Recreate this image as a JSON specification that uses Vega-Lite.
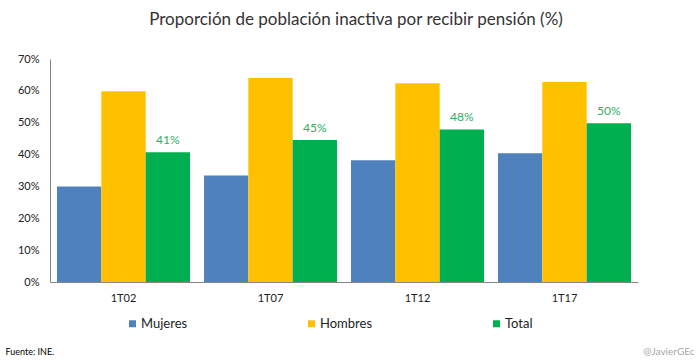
{
  "$schema": "https://vega.github.io/schema/vega-lite/v6.json",
  "autosize": {"type": "none"},
  "padding": {"left": 50, "top": 59, "right": 62, "bottom": 81},
  "width": 588,
  "height": 223,
  "background": "white",
  "config": {
    "font": "Lato",
    "view": {"stroke": null}
  },
  "title": {
    "text": "Proporción de población inactiva por recibir pensión (%)",
    "fontSize": 17,
    "fontWeight": "normal",
    "color": "#333333",
    "anchor": "middle",
    "frame": "group",
    "dx": 12,
    "baseline": "alphabetic",
    "offset": 11
  },
  "data": {
    "values": [
      {"periodo": "1T02", "serie": "Mujeres", "valor": 0.300},
      {"periodo": "1T02", "serie": "Hombres", "valor": 0.599},
      {"periodo": "1T02", "serie": "Total", "valor": 0.407},
      {"periodo": "1T07", "serie": "Mujeres", "valor": 0.334},
      {"periodo": "1T07", "serie": "Hombres", "valor": 0.640},
      {"periodo": "1T07", "serie": "Total", "valor": 0.446},
      {"periodo": "1T12", "serie": "Mujeres", "valor": 0.382},
      {"periodo": "1T12", "serie": "Hombres", "valor": 0.624},
      {"periodo": "1T12", "serie": "Total", "valor": 0.479},
      {"periodo": "1T17", "serie": "Mujeres", "valor": 0.404},
      {"periodo": "1T17", "serie": "Hombres", "valor": 0.628},
      {"periodo": "1T17", "serie": "Total", "valor": 0.498}
    ]
  },
  "encoding": {
    "x": {
      "field": "periodo",
      "type": "nominal",
      "sort": ["1T02", "1T07", "1T12", "1T17"],
      "scale": {"paddingInner": 0.095, "paddingOuter": 0.0476},
      "axis": {
        "title": "Fuente: INE.",
        "titleFontSize": 9,
        "titleFontWeight": "normal",
        "titleColor": "#000000",
        "titleAnchor": null,
        "titleAlign": "left",
        "titleBaseline": "middle",
        "titleX": -45,
        "titleY": 69,
        "labelAngle": 0,
        "labelFontSize": 11,
        "labelColor": "#222222",
        "labelPadding": 10,
        "ticks": false,
        "tickSize": 0,
        "domainColor": "#868686",
        "domainWidth": 1
      }
    },
    "xOffset": {
      "field": "serie",
      "type": "nominal",
      "scale": {"domain": ["Mujeres", "Hombres", "Total"]}
    },
    "y": {
      "field": "valor",
      "type": "quantitative",
      "scale": {"domain": [0, 0.7], "nice": false},
      "axis": {
        "title": "@JavierGEc",
        "titleAngle": 0,
        "titleFontSize": 10,
        "titleFontWeight": "normal",
        "titleColor": "#A6A6A6",
        "titleAnchor": null,
        "titleAlign": "right",
        "titleBaseline": "middle",
        "titleX": 644,
        "titleY": 292,
        "values": [0, 0.1, 0.2, 0.3, 0.4, 0.5, 0.6, 0.7],
        "format": ".0%",
        "grid": false,
        "ticks": false,
        "tickSize": 0,
        "labelPadding": 11,
        "labelFontSize": 11,
        "labelColor": "#222222",
        "domainColor": "#868686",
        "domainWidth": 1
      }
    }
  },
  "layer": [
    {
      "mark": {"type": "bar"},
      "encoding": {
        "color": {
          "field": "serie",
          "type": "nominal",
          "scale": {
            "domain": ["Mujeres", "Hombres", "Total"],
            "range": ["#4F81BD", "#FFC000", "#00B050"]
          },
          "legend": {
            "title": null,
            "orient": "none",
            "direction": "horizontal",
            "legendX": 76,
            "legendY": 258,
            "symbolType": "square",
            "symbolSize": 49,
            "symbolOpacity": 1,
            "symbolStrokeWidth": 0,
            "labelFontSize": 13,
            "labelColor": "#222222",
            "labelOffset": 2,
            "columnPadding": 117,
            "padding": 0
          }
        }
      }
    },
    {
      "transform": [{"filter": "datum.serie === 'Total'"}],
      "mark": {"type": "text", "baseline": "bottom", "dy": -5, "fontSize": 12, "color": "#2EAF5F"},
      "encoding": {
        "text": {"field": "valor", "type": "quantitative", "format": ".0%"}
      }
    }
  ]
}
